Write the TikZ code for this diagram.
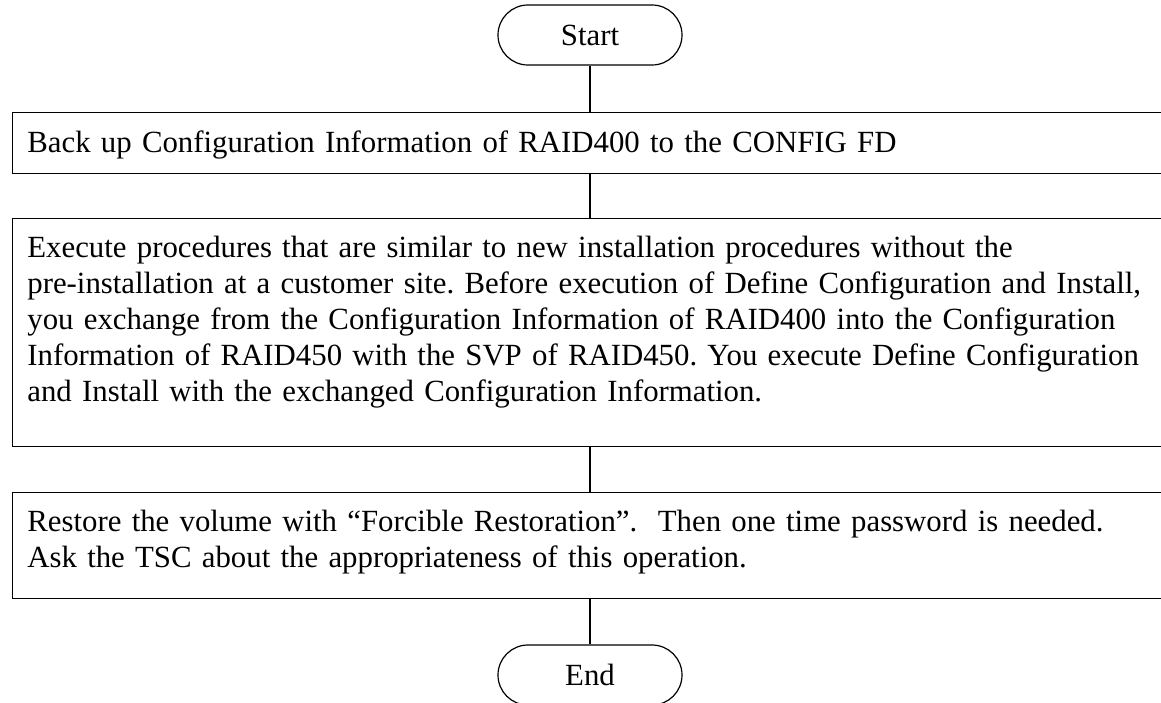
\documentclass[tikz,border=0pt]{standalone}
\usepackage{fontspec}
\setmainfont{Liberation Serif}
\begin{document}
\begin{tikzpicture}[x=0.5pt,y=-0.5pt,
  every node/.style={font=\fontsize{15.4pt}{18pt}\selectfont\frenchspacing},
  terminal/.style={draw, line width=0.6pt, rounded corners=15pt, minimum width=92pt, minimum height=30pt, inner sep=0pt},
  stepbox/.style={draw, line width=0.6pt, anchor=north west, minimum width=589pt, inner sep=0pt},
  steptext/.style={anchor=base west, text width=574pt, inner sep=0pt, align=left},
  link/.style={draw, line width=0.6pt}]
\useasboundingbox (0,0) rectangle (1161,702);
\clip (0,0) rectangle (1161,702);
\node[terminal] (start) at (590,35) {Start};
\node[stepbox, minimum height=30.5pt] (b1) at (12,112) {};
\node[steptext] (t1) at (27,152) {Back up Configuration Information of RAID400 to the CONFIG FD};
\node[stepbox, minimum height=114pt] (b2) at (12,218) {};
\node[steptext] (t2) at (27,257) {Execute procedures that are similar to new installation procedures without the\\
pre-installation at a customer site. Before execution of Define Configuration and Install,\\
you exchange from the Configuration Information of RAID400 into the Configuration\\
Information of RAID450 with the SVP of RAID450. You execute Define Configuration\\
and Install with the exchanged Configuration Information.};
\node[stepbox, minimum height=53pt] (b3) at (12,492) {};
\node[steptext] (t3) at (27,531) {Restore the volume with “Forcible Restoration”.\ \ Then one time password is needed.\\
Ask the TSC about the appropriateness of this operation.};
\node[terminal] (end) at (590,675) {End};
\draw[link] (start.south) -- (start.south |- b1.north);
\draw[link] (start.south |- b1.south) -- (start.south |- b2.north);
\draw[link] (start.south |- b2.south) -- (start.south |- b3.north);
\draw[link] (end.north |- b3.south) -- (end.north);
\end{tikzpicture}
\end{document}
